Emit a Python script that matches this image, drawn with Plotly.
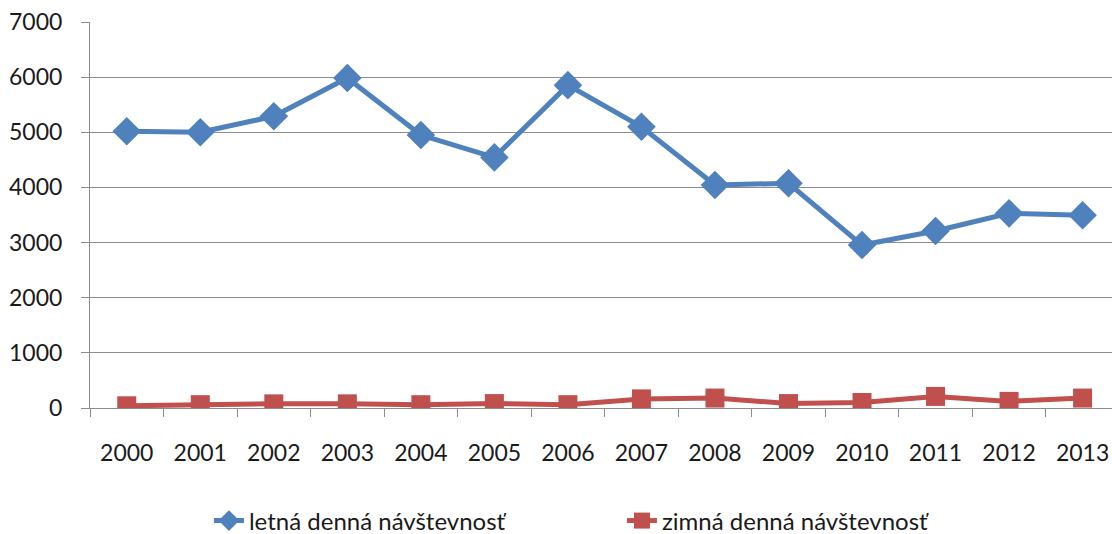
import plotly.graph_objects as go

years = ["2000", "2001", "2002", "2003", "2004", "2005", "2006",
         "2007", "2008", "2009", "2010", "2011", "2012", "2013"]
letna = [5020, 5000, 5290, 5985, 4950, 4545, 5855, 5100, 4045, 4075, 2955, 3210, 3530, 3495]
zimna = [40, 60, 75, 75, 60, 80, 60, 165, 180, 80, 100, 210, 120, 180]
y_ticks = [0, 1000, 2000, 3000, 4000, 5000, 6000, 7000]

FONT = "Lato"
BLUE = "#4F81BD"
RED = "#C0504D"
GRID = "#8C8C8C"
TXT = "#1a1a1a"

fig = go.Figure()
fig.add_trace(go.Scatter(
    x=years, y=letna, mode="lines+markers", name="letná denná návštevnosť",
    line=dict(color=BLUE, width=5),
    marker=dict(symbol="diamond", size=22, color=BLUE),
))
fig.add_trace(go.Scatter(
    x=years, y=zimna, mode="lines+markers", name="zimná denná návštevnosť",
    line=dict(color=RED, width=5),
    marker=dict(symbol="square", size=19, color=RED),
))

fig.update_layout(
    width=1112, height=534,
    margin=dict(l=90, r=0, t=22, b=126, autoexpand=False),
    paper_bgcolor="white", plot_bgcolor="white",
    font=dict(family=FONT, size=23, color=TXT),
    showlegend=True,
    legend=dict(
        orientation="h", x=0.1164, xanchor="left", y=-0.2927, yanchor="middle",
        font=dict(family=FONT, size=24, color=TXT),
        entrywidth=368, entrywidthmode="pixels",
        bgcolor="rgba(0,0,0,0)",
    ),
    xaxis=dict(
        type="category", range=[-0.5, 13.4], automargin=False,
        showgrid=False, showline=True, linecolor=GRID, linewidth=1,
        ticks="outside", tickson="boundaries", ticklen=8, tickcolor=GRID,
        ticklabelstandoff=24, ticklabeloverflow="allow",
        tickfont=dict(family=FONT, size=23, color=TXT),
    ),
    yaxis=dict(
        range=[0, 7000], tickvals=y_ticks, ticktext=[str(v) for v in y_ticks],
        automargin=False, ticklabeloverflow="allow",
        showgrid=True, gridcolor=GRID, gridwidth=1,
        showline=True, linecolor=GRID, linewidth=1,
        ticks="outside", ticklen=8, tickcolor=GRID,
        ticklabelstandoff=14, zeroline=False,
        tickfont=dict(family=FONT, size=23, color=TXT),
    ),
)

fig.write_html(
    "out.html",
    config={"displayModeBar": False},
    post_script="document.body.style.margin='0';document.body.style.overflow='hidden';",
)
